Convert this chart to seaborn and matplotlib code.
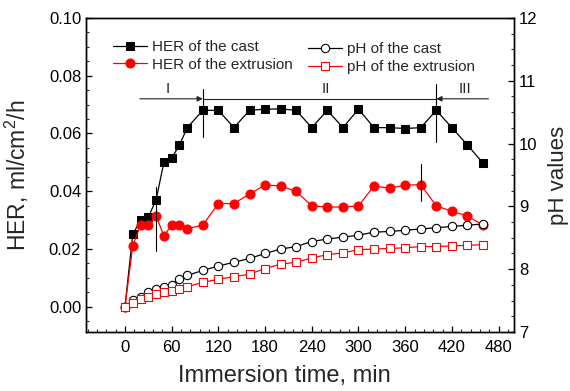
import matplotlib
matplotlib.use("Agg")
import matplotlib.pyplot as plt
import seaborn as sns
import numpy as np
from matplotlib.ticker import MultipleLocator, FormatStrFormatter

# ---------------- data ----------------
time_min = [0, 10, 20, 30, 40, 50, 60, 70, 80, 100, 120, 140, 160, 180, 200,
            220, 240, 260, 280, 300, 320, 340, 360, 380, 400, 420, 440, 460]
her_cast = [0.0, 0.025, 0.030, 0.031, 0.037, 0.050, 0.0514, 0.056, 0.062, 0.068,
            0.068, 0.062, 0.068, 0.0684, 0.0685, 0.068, 0.062, 0.068, 0.062, 0.0684,
            0.062, 0.062, 0.0617, 0.062, 0.068, 0.062, 0.056, 0.0497]
her_extr = [0.0, 0.021, 0.0282, 0.0282, 0.0314, 0.0245, 0.0282, 0.0282, 0.027, 0.0282,
            0.0357, 0.0357, 0.039, 0.0421, 0.0418, 0.0399, 0.0349, 0.0345, 0.0345, 0.0349,
            0.0418, 0.041, 0.0421, 0.0422, 0.0349, 0.033, 0.0314, 0.0282]
ph_cast = [7.40, 7.51, 7.56, 7.63, 7.68, 7.71, 7.75, 7.84, 7.90, 7.98,
           8.05, 8.11, 8.17, 8.25, 8.32, 8.36, 8.44, 8.48, 8.51, 8.54,
           8.59, 8.60, 8.62, 8.64, 8.66, 8.68, 8.70, 8.72]
ph_extr = [7.40, 7.46, 7.53, 7.56, 7.61, 7.63, 7.65, 7.68, 7.72, 7.79,
           7.84, 7.88, 7.92, 8.01, 8.08, 8.11, 8.18, 8.23, 8.26, 8.31,
           8.32, 8.33, 8.34, 8.36, 8.36, 8.37, 8.38, 8.39]

x_ticks = [0, 60, 120, 180, 240, 300, 360, 420, 480]
stage_labels = ["I", "II", "III"]
stage_bounds = [100, 400]          # boundaries of stages (min)
stage_line_span = [19, 467]        # extent of the stage arrow line (min)
stage_line_y = 0.072
stage_label_x = [55, 258, 437]
stage_label_y = 0.0755
# short vertical markers: (time, y_low, y_high)
vmarks = [(100, 0.0588, 0.0753), (400, 0.057, 0.077),
          (40, 0.0192, 0.0413), (380, 0.0366, 0.0494)]

# ---------------- style ----------------
sns.set_theme(style="ticks")
plt.rcParams["font.family"] = ["Liberation Sans", "DejaVu Sans"]
plt.rcParams["mathtext.fontset"] = "custom"
plt.rcParams["mathtext.rm"] = "Liberation Sans"
plt.rcParams["mathtext.it"] = "Liberation Sans:italic"
plt.rcParams["mathtext.bf"] = "Liberation Sans:bold"
plt.rcParams["xtick.direction"] = "in"
plt.rcParams["ytick.direction"] = "in"

fig = plt.figure(figsize=(5.7, 3.91), dpi=100)
ax = fig.add_axes([0.151, 0.151, 0.751, 0.803])
ax2 = ax.twinx()

lw = 0.9
ms = 5.5
sns.lineplot(x=time_min, y=her_cast, ax=ax, color="black", marker="s", markersize=ms,
             markeredgecolor="black", linewidth=lw, label="HER of the cast", zorder=3)
sns.lineplot(x=time_min, y=her_extr, ax=ax, color="red", marker="o", markersize=ms + 1,
             markeredgecolor="red", linewidth=lw, label="HER of the extrusion", zorder=4)
sns.lineplot(x=time_min, y=ph_cast, ax=ax2, color="black", marker="o", markersize=ms + 0.5,
             markerfacecolor="white", markeredgecolor="black", markeredgewidth=0.8,
             linewidth=lw, label="pH of the cast", zorder=3)
sns.lineplot(x=time_min, y=ph_extr, ax=ax2, color="red", marker="s", markersize=ms,
             markerfacecolor="white", markeredgecolor="red", markeredgewidth=0.8,
             linewidth=lw, label="pH of the extrusion", zorder=4)

# axes limits / ticks
ax.set_xlim(-50, 500)
ax.set_ylim(-0.0088, 0.1)
ax2.set_ylim(7, 12)
ax.set_xticks(x_ticks)
ax.xaxis.set_minor_locator(MultipleLocator(12))
ax.yaxis.set_major_locator(MultipleLocator(0.02))
ax.yaxis.set_minor_locator(MultipleLocator(0.005))
ax.yaxis.set_major_formatter(FormatStrFormatter("%.2f"))
ax2.yaxis.set_major_locator(MultipleLocator(1))
ax2.yaxis.set_minor_locator(MultipleLocator(0.25))

for a in (ax, ax2):
    a.tick_params(which="major", direction="in", length=4, width=0.9, labelsize=12, colors="black")
    a.tick_params(which="minor", direction="in", length=2.2, width=0.8)
    for s in a.spines.values():
        s.set_linewidth(1.0)
        s.set_color("black")
        s.set_visible(True)
ax.tick_params(axis="x", which="both", top=False)
ax.tick_params(axis="y", which="both", right=False)
ax2.tick_params(axis="y", which="both", left=False, right=True)
ax.tick_params(axis="x", pad=6)

ax.set_xlabel("Immersion time, min", fontsize=17)
ax.xaxis.set_label_coords(0.463, -0.105)
ax.set_ylabel("HER, ml/cm$^2$/h", fontsize=16.5)
ax.yaxis.set_label_coords(-0.128, 0.5)
ax2.set_ylabel("pH values", fontsize=16)
ax2.yaxis.set_label_coords(1.078, 0.5)
ax.set_zorder(ax2.get_zorder() - 1)
ax.patch.set_visible(True)
ax2.patch.set_visible(False)

# stage annotation
lc = "#222222"
ax.annotate("", xy=(stage_bounds[0], stage_line_y), xytext=(stage_line_span[0], stage_line_y),
            arrowprops=dict(arrowstyle="-|>", color=lc, lw=0.8, mutation_scale=8,
                            shrinkA=0, shrinkB=0))
ax.plot([stage_bounds[0], stage_bounds[1]], [stage_line_y, stage_line_y], color=lc, lw=0.8)
ax.annotate("", xy=(stage_bounds[1], stage_line_y), xytext=(stage_line_span[1], stage_line_y),
            arrowprops=dict(arrowstyle="-|>", color=lc, lw=0.8, mutation_scale=8,
                            shrinkA=0, shrinkB=0))
for lbl, xl in zip(stage_labels, stage_label_x):
    ax.text(xl, stage_label_y, lbl, ha="center", va="center", fontsize=11)
for (tx, y0, y1) in vmarks:
    ax.plot([tx, tx], [y0, y1], color="black", lw=0.8, zorder=5)

# legends
for a in (ax, ax2):
    if a.get_legend() is not None:
        a.get_legend().remove()
h1, l1 = ax.get_legend_handles_labels()
h2, l2 = ax2.get_legend_handles_labels()
leg1 = ax2.legend(h1, l1, loc="upper left", bbox_to_anchor=(0.063, 0.93), frameon=False,
                  fontsize=11, borderpad=0, handlelength=2.2, handletextpad=0.35,
                  labelspacing=0.25, borderaxespad=0)
ax2.add_artist(leg1)
ax2.legend(h2, l2, loc="upper left", bbox_to_anchor=(0.519, 0.923), frameon=False,
           fontsize=11, borderpad=0, handlelength=2.2, handletextpad=0.35,
           labelspacing=0.25, borderaxespad=0)

fig.savefig("out.png", dpi=100)
